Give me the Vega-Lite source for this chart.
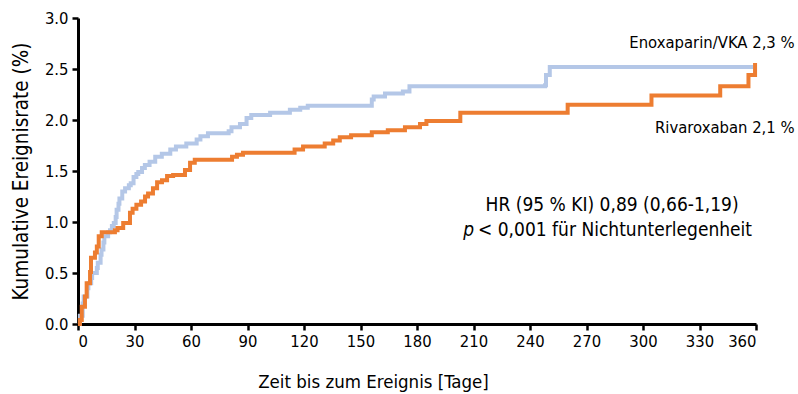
{
  "$schema": "https://vega.github.io/schema/vega-lite/v6.json",
  "width": 678,
  "height": 306,
  "autosize": {"type": "none"},
  "padding": {"left": 78, "top": 18, "right": 42, "bottom": 70},
  "background": "white",
  "config": {
    "view": {"stroke": null},
    "font": "DejaVu Sans Condensed, Open Sans, sans-serif",
    "axis": {"grid": false, "domainColor": "black", "tickColor": "black", "domainWidth": 3, "tickWidth": 2.5, "tickSize": 6, "labelColor": "black", "titleColor": "black", "labelFont": "DejaVu Sans Condensed, Open Sans, sans-serif", "titleFont": "DejaVu Sans Condensed, Open Sans, sans-serif", "labelFontSize": 16.5, "titleFontWeight": "normal"}
  },
  "datasets": {
    "km": [
      {"arm": "Enoxaparin/VKA", "day": 0, "rate": 0},
      {"arm": "Enoxaparin/VKA", "day": 1, "rate": 0.08},
      {"arm": "Enoxaparin/VKA", "day": 2.5, "rate": 0.2},
      {"arm": "Enoxaparin/VKA", "day": 3, "rate": 0.27},
      {"arm": "Enoxaparin/VKA", "day": 5, "rate": 0.35},
      {"arm": "Enoxaparin/VKA", "day": 5.5, "rate": 0.4},
      {"arm": "Enoxaparin/VKA", "day": 7, "rate": 0.45},
      {"arm": "Enoxaparin/VKA", "day": 7.5, "rate": 0.5},
      {"arm": "Enoxaparin/VKA", "day": 10, "rate": 0.55},
      {"arm": "Enoxaparin/VKA", "day": 10.5, "rate": 0.6},
      {"arm": "Enoxaparin/VKA", "day": 12, "rate": 0.68},
      {"arm": "Enoxaparin/VKA", "day": 12.5, "rate": 0.73},
      {"arm": "Enoxaparin/VKA", "day": 13.5, "rate": 0.8},
      {"arm": "Enoxaparin/VKA", "day": 14, "rate": 0.86},
      {"arm": "Enoxaparin/VKA", "day": 16, "rate": 0.9},
      {"arm": "Enoxaparin/VKA", "day": 17, "rate": 0.92},
      {"arm": "Enoxaparin/VKA", "day": 18, "rate": 0.96},
      {"arm": "Enoxaparin/VKA", "day": 19, "rate": 0.99},
      {"arm": "Enoxaparin/VKA", "day": 20, "rate": 1.05},
      {"arm": "Enoxaparin/VKA", "day": 20.5, "rate": 1.12},
      {"arm": "Enoxaparin/VKA", "day": 21.5, "rate": 1.18},
      {"arm": "Enoxaparin/VKA", "day": 22, "rate": 1.23},
      {"arm": "Enoxaparin/VKA", "day": 23.5, "rate": 1.3},
      {"arm": "Enoxaparin/VKA", "day": 25, "rate": 1.33},
      {"arm": "Enoxaparin/VKA", "day": 27, "rate": 1.36},
      {"arm": "Enoxaparin/VKA", "day": 28, "rate": 1.38},
      {"arm": "Enoxaparin/VKA", "day": 29.5, "rate": 1.44},
      {"arm": "Enoxaparin/VKA", "day": 31, "rate": 1.47},
      {"arm": "Enoxaparin/VKA", "day": 32, "rate": 1.49},
      {"arm": "Enoxaparin/VKA", "day": 34, "rate": 1.53},
      {"arm": "Enoxaparin/VKA", "day": 35.5, "rate": 1.56},
      {"arm": "Enoxaparin/VKA", "day": 38, "rate": 1.59},
      {"arm": "Enoxaparin/VKA", "day": 41, "rate": 1.64},
      {"arm": "Enoxaparin/VKA", "day": 44.5, "rate": 1.67},
      {"arm": "Enoxaparin/VKA", "day": 49, "rate": 1.71},
      {"arm": "Enoxaparin/VKA", "day": 52, "rate": 1.74},
      {"arm": "Enoxaparin/VKA", "day": 57.5, "rate": 1.77},
      {"arm": "Enoxaparin/VKA", "day": 63, "rate": 1.81},
      {"arm": "Enoxaparin/VKA", "day": 65, "rate": 1.84},
      {"arm": "Enoxaparin/VKA", "day": 69, "rate": 1.87},
      {"arm": "Enoxaparin/VKA", "day": 80, "rate": 1.89},
      {"arm": "Enoxaparin/VKA", "day": 81.5, "rate": 1.93},
      {"arm": "Enoxaparin/VKA", "day": 86, "rate": 1.96},
      {"arm": "Enoxaparin/VKA", "day": 89.5, "rate": 2.02},
      {"arm": "Enoxaparin/VKA", "day": 92, "rate": 2.05},
      {"arm": "Enoxaparin/VKA", "day": 102, "rate": 2.07},
      {"arm": "Enoxaparin/VKA", "day": 112.5, "rate": 2.1},
      {"arm": "Enoxaparin/VKA", "day": 118, "rate": 2.12},
      {"arm": "Enoxaparin/VKA", "day": 122, "rate": 2.14},
      {"arm": "Enoxaparin/VKA", "day": 154, "rate": 2.14},
      {"arm": "Enoxaparin/VKA", "day": 156, "rate": 2.2},
      {"arm": "Enoxaparin/VKA", "day": 157, "rate": 2.23},
      {"arm": "Enoxaparin/VKA", "day": 163, "rate": 2.26},
      {"arm": "Enoxaparin/VKA", "day": 172.5, "rate": 2.28},
      {"arm": "Enoxaparin/VKA", "day": 176, "rate": 2.33},
      {"arm": "Enoxaparin/VKA", "day": 248, "rate": 2.34},
      {"arm": "Enoxaparin/VKA", "day": 248.5, "rate": 2.44},
      {"arm": "Enoxaparin/VKA", "day": 250.5, "rate": 2.52},
      {"arm": "Enoxaparin/VKA", "day": 358.5, "rate": 2.52},
      {"arm": "Rivaroxaban", "day": 0, "rate": 0},
      {"arm": "Rivaroxaban", "day": 1, "rate": 0.04},
      {"arm": "Rivaroxaban", "day": 2, "rate": 0.17},
      {"arm": "Rivaroxaban", "day": 3.7, "rate": 0.27},
      {"arm": "Rivaroxaban", "day": 4.6, "rate": 0.4},
      {"arm": "Rivaroxaban", "day": 6.4, "rate": 0.51},
      {"arm": "Rivaroxaban", "day": 6.9, "rate": 0.65},
      {"arm": "Rivaroxaban", "day": 9, "rate": 0.7},
      {"arm": "Rivaroxaban", "day": 10, "rate": 0.76},
      {"arm": "Rivaroxaban", "day": 11, "rate": 0.86},
      {"arm": "Rivaroxaban", "day": 12.6, "rate": 0.9},
      {"arm": "Rivaroxaban", "day": 19.6, "rate": 0.92},
      {"arm": "Rivaroxaban", "day": 21, "rate": 0.94},
      {"arm": "Rivaroxaban", "day": 24, "rate": 0.99},
      {"arm": "Rivaroxaban", "day": 27.6, "rate": 1.09},
      {"arm": "Rivaroxaban", "day": 29, "rate": 1.13},
      {"arm": "Rivaroxaban", "day": 31, "rate": 1.17},
      {"arm": "Rivaroxaban", "day": 33.5, "rate": 1.2},
      {"arm": "Rivaroxaban", "day": 35.6, "rate": 1.25},
      {"arm": "Rivaroxaban", "day": 37.2, "rate": 1.28},
      {"arm": "Rivaroxaban", "day": 39.8, "rate": 1.33},
      {"arm": "Rivaroxaban", "day": 42, "rate": 1.39},
      {"arm": "Rivaroxaban", "day": 44.6, "rate": 1.41},
      {"arm": "Rivaroxaban", "day": 47.3, "rate": 1.45},
      {"arm": "Rivaroxaban", "day": 50.5, "rate": 1.46},
      {"arm": "Rivaroxaban", "day": 56.8, "rate": 1.51},
      {"arm": "Rivaroxaban", "day": 59.5, "rate": 1.58},
      {"arm": "Rivaroxaban", "day": 62, "rate": 1.61},
      {"arm": "Rivaroxaban", "day": 81.8, "rate": 1.64},
      {"arm": "Rivaroxaban", "day": 84.4, "rate": 1.66},
      {"arm": "Rivaroxaban", "day": 87.6, "rate": 1.68},
      {"arm": "Rivaroxaban", "day": 115, "rate": 1.71},
      {"arm": "Rivaroxaban", "day": 119.5, "rate": 1.74},
      {"arm": "Rivaroxaban", "day": 131, "rate": 1.77},
      {"arm": "Rivaroxaban", "day": 135.5, "rate": 1.8},
      {"arm": "Rivaroxaban", "day": 139, "rate": 1.83},
      {"arm": "Rivaroxaban", "day": 145, "rate": 1.85},
      {"arm": "Rivaroxaban", "day": 156, "rate": 1.88},
      {"arm": "Rivaroxaban", "day": 164.5, "rate": 1.9},
      {"arm": "Rivaroxaban", "day": 173.6, "rate": 1.93},
      {"arm": "Rivaroxaban", "day": 181.6, "rate": 1.96},
      {"arm": "Rivaroxaban", "day": 185, "rate": 1.99},
      {"arm": "Rivaroxaban", "day": 203, "rate": 2.07},
      {"arm": "Rivaroxaban", "day": 260, "rate": 2.15},
      {"arm": "Rivaroxaban", "day": 304.5, "rate": 2.24},
      {"arm": "Rivaroxaban", "day": 341, "rate": 2.33},
      {"arm": "Rivaroxaban", "day": 356, "rate": 2.44},
      {"arm": "Rivaroxaban", "day": 359.5, "rate": 2.56}
    ]
  },
  "layer": [
    {
      "data": {"name": "km"},
      "transform": [{"filter": "datum.arm === 'Enoxaparin/VKA'"}],
      "mark": {"type": "line", "interpolate": "step-after", "color": "#b4c7e7", "strokeWidth": 4, "clip": false},
      "encoding": {
        "x": {"field": "day", "type": "quantitative", "scale": {"domain": [0, 360], "nice": false}, "axis": {"values": [0,30,60,90,120,150,180,210,240,270,300,330,360], "title": "Zeit bis zum Ereignis [Tage]", "titleFontSize": 18.5, "titlePadding": 23, "titleX": 295, "titleAlign": "center", "labelPadding": 3}},
        "y": {"field": "rate", "type": "quantitative", "scale": {"domain": [0, 3], "nice": false}, "axis": {"values": [0,0.5,1,1.5,2,2.5,3], "format": ".1f", "title": "Kumulative Ereignisrate (%)", "titleFontSize": 20.5, "titlePadding": 13, "labelPadding": 4}}
      }
    },
    {
      "data": {"name": "km"},
      "transform": [{"filter": "datum.arm === 'Rivaroxaban'"}],
      "mark": {"type": "line", "interpolate": "step-after", "color": "#ed7d31", "strokeWidth": 4, "clip": false},
      "encoding": {
        "x": {"field": "day", "type": "quantitative"},
        "y": {"field": "rate", "type": "quantitative"}
      }
    },
    {
      "data": {"values": [{}]},
      "mark": {"type": "text", "text": "Enoxaparin/VKA 2,3 %", "align": "right", "baseline": "middle", "fontSize": 16.5, "color": "black"},
      "encoding": {"x": {"datum": 380.5}, "y": {"datum": 2.755}}
    },
    {
      "data": {"values": [{}]},
      "mark": {"type": "text", "text": "Rivaroxaban 2,1 %", "align": "right", "baseline": "middle", "fontSize": 16.5, "color": "black"},
      "encoding": {"x": {"datum": 380.5}, "y": {"datum": 1.92}}
    },
    {
      "data": {"values": [{}]},
      "mark": {"type": "text", "text": "HR (95 % KI) 0,89 (0,66-1,19)", "align": "center", "baseline": "middle", "fontSize": 19, "color": "black"},
      "encoding": {"x": {"datum": 283.6}, "y": {"datum": 1.167}}
    },
    {
      "data": {"values": [{}]},
      "mark": {"type": "text", "text": "p", "align": "left", "baseline": "middle", "fontSize": 19, "fontStyle": "italic", "color": "black"},
      "encoding": {"x": {"datum": 204.5}, "y": {"datum": 0.92}}
    },
    {
      "data": {"values": [{}]},
      "mark": {"type": "text", "text": "< 0,001 für Nichtunterlegenheit", "align": "right", "baseline": "middle", "fontSize": 19, "color": "black"},
      "encoding": {"x": {"datum": 357.9}, "y": {"datum": 0.92}}
    }
  ]
}
